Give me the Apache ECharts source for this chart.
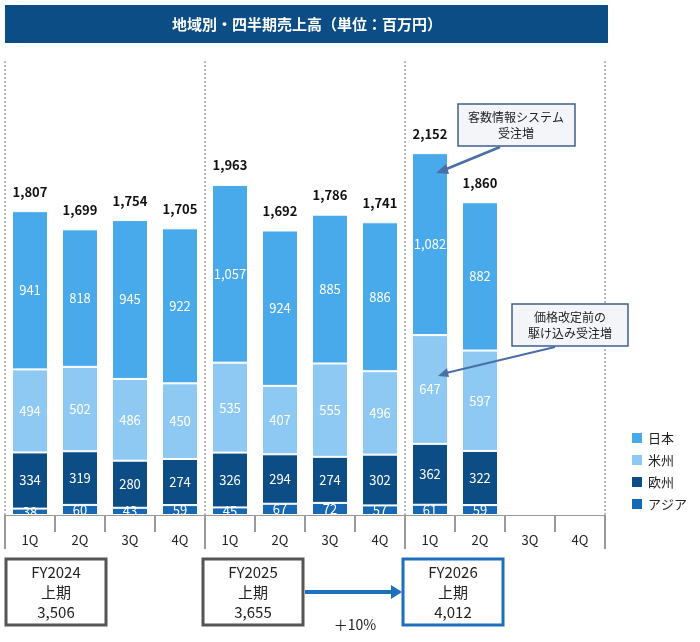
<!DOCTYPE html>
<html><head><meta charset="utf-8">
<script src="https://cdn.jsdelivr.net/npm/echarts@6/dist/echarts.min.js"></script>
<style>html,body{margin:0;background:#fff}#main{width:700px;height:642px}</style>
</head><body><div id="main"></div>
<script>
// 四半期ラベル
var quarters = ['1Q','2Q','3Q','4Q','1Q','2Q','3Q','4Q','1Q','2Q','3Q','4Q'];
var japan    = [941,818,945,922,1057,924,885,886,1082,882,null,null];
var americas = [494,502,486,450,535,407,555,496,647,597,null,null];
var europe   = [334,319,280,274,326,294,274,302,362,322,null,null];
var asia     = [38,60,43,59,45,67,72,57,61,59,null,null];
var totals   = [1807,1699,1754,1705,1963,1692,1786,1741,2152,1860,null,null];
var fyNames  = ['FY2024','FY2025','FY2026'];
var fyTotals = ['3,506','3,655','4,012'];

var FONT = '"Noto Sans CJK JP", "Noto Sans", sans-serif';
var myChart = echarts.init(document.getElementById('main'));

function fmt(v){ return v == null ? '' : v.toLocaleString('en-US'); }

function barSeries(name, data, color){
	return {
		name: name, type: 'bar', stack: 'all', data: data, barWidth: 36,
		itemStyle: {color: color, borderColor: '#fff', borderWidth: 1},
		label: {show: true, position: 'inside', color: '#fff', fontSize: 13, fontFamily: FONT,
			formatter: function(p){ return fmt(p.value); }}
	};
}

var series = [
	barSeries('アジア', asia, '#1668b4'),
	barSeries('欧州', europe, '#0c4d85'),
	barSeries('米州', americas, '#8dc9f2'),
	barSeries('日本', japan, '#49aaeb')
];
// 合計ラベル
series.push({
	name: 'total', type: 'bar', stack: 'all', data: totals.map(function(){ return 0; }),
	itemStyle: {color: 'transparent'}, barWidth: 36,
	label: {show: true, position: 'top', distance: 13, color: '#111', fontSize: 13, fontWeight: 'bold', fontFamily: FONT,
		formatter: function(p){ return fmt(totals[p.dataIndex]); }}
});

var graphics = [
	{type: 'rect', shape: {x: 5, y: 5, width: 603, height: 38}, style: {fill: '#0c4d85'}},
	{type: 'text', x: 307, y: 24, style: {text: '地域別・四半期売上高（単位：百万円）', fill: '#fff', font: 'bold 15px ' + FONT, align: 'center', verticalAlign: 'middle'}},
	// 軸の下を白で覆う
	{type: 'rect', shape: {x: 0, y: 515, width: 610, height: 40}, style: {fill: '#fff'}, z: 5},
	// 注記
	{type: 'rect', shape: {x: 458, y: 104, width: 117, height: 42}, style: {fill: '#f3f5f8', stroke: '#3e5f8f', lineWidth: 1.5}, z: 10},
	{type: 'text', x: 516, y: 125, z: 11, style: {text: '客数情報システム\n受注増', fill: '#222', font: '12px ' + FONT, align: 'center', verticalAlign: 'middle', lineHeight: 16}},
	{type: 'line', shape: {x1: 500, y1: 147, x2: 444, y2: 170}, style: {stroke: '#4a6fa5', lineWidth: 2.5}, z: 10},
	{type: 'polygon', shape: {points: [[436,173],[446,164],[449,174]]}, style: {fill: '#4a6fa5'}, z: 10},
	{type: 'rect', shape: {x: 512, y: 304, width: 116, height: 42}, style: {fill: '#f3f5f8', stroke: '#3e5f8f', lineWidth: 1.5}, z: 10},
	{type: 'text', x: 570, y: 325, z: 11, style: {text: '価格改定前の\n駆け込み受注増', fill: '#222', font: '12px ' + FONT, align: 'center', verticalAlign: 'middle', lineHeight: 16}},
	{type: 'line', shape: {x1: 555, y1: 347, x2: 446, y2: 373}, style: {stroke: '#4a6fa5', lineWidth: 2}, z: 10},
	{type: 'polygon', shape: {points: [[438,376],[447,368],[449,377]]}, style: {fill: '#4a6fa5'}, z: 10},
	// 矢印と伸び率
	{type: 'line', shape: {x1: 305, y1: 592, x2: 392, y2: 592}, style: {stroke: '#1f6fbf', lineWidth: 4}},
	{type: 'polygon', shape: {points: [[391,585],[402,592],[391,599]]}, style: {fill: '#1f6fbf'}},
	{type: 'text', x: 355, y: 625, style: {text: '＋10%', fill: '#222', font: '14px ' + FONT, align: 'center', verticalAlign: 'middle'}}
];
// 年度区切りの縦線
[5, 205, 405, 605].forEach(function(x){
	graphics.push({type: 'line', shape: {x1: x, y1: 515, x2: x, y2: 549}, style: {stroke: '#999', lineWidth: 2}, z: 6});
});
var boxX = [6, 203, 403];
for (var i = 0; i < 3; i++) {
	graphics.push({type: 'rect', shape: {x: boxX[i], y: 559, width: 100, height: 66},
		style: {fill: '#fff', stroke: i == 2 ? '#1f6fbf' : '#555', lineWidth: 3}});
	graphics.push({type: 'text', x: boxX[i] + 50, y: 592,
		style: {text: fyNames[i] + '\n上期\n' + fyTotals[i], fill: '#222', font: '15px ' + FONT, align: 'center', verticalAlign: 'middle', lineHeight: 20}});
}

option = {
	animation: false,
	textStyle: {fontFamily: FONT},
	grid: {left: 5, right: 95, top: 61, bottom: 127},
	legend: {
		orient: 'vertical', right: 8, top: 426, itemWidth: 12, itemHeight: 12, itemGap: 8,
		icon: 'rect', textStyle: {fontSize: 13, color: '#222'},
		data: ['日本', '米州', '欧州', 'アジア']
	},
	xAxis: {
		type: 'category', data: quarters, z: 8,
		axisLine: {show: true, lineStyle: {color: '#999', width: 1}},
		axisTick: {show: true, length: 17, lineStyle: {color: '#999', width: 2}},
		axisLabel: {color: '#222', fontSize: 13, margin: 19},
		splitLine: {show: true, interval: 3, lineStyle: {color: '#bbb', type: 'dotted', width: 2}}
	},
	yAxis: {type: 'value', min: 0, max: 2700, show: false, splitLine: {show: false}},
	series: series,
	graphic: graphics
};
myChart.setOption(option);
</script>
</body></html>
